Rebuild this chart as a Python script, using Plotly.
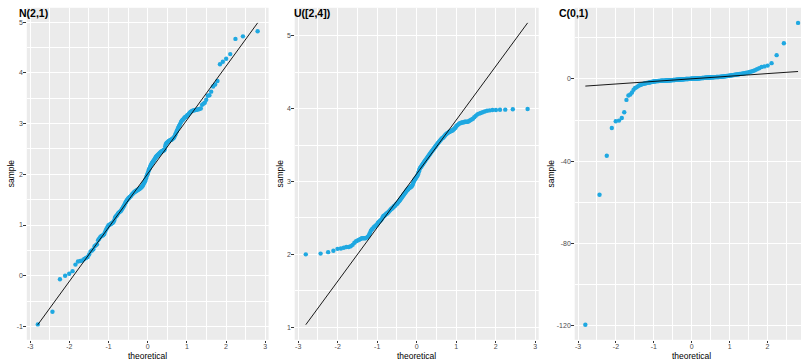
import numpy as np
import plotly.graph_objects as go
from statistics import NormalDist

# ---------------- data (sorted sample values) ----------------
titles = ["N(2,1)", "U([2,4])", "C(0,1)"]

normal_sample = [
    -0.96, -0.71, -0.07, 0.00, 0.04, 0.09, 0.22, 0.28, 0.29, 0.30,
    0.33, 0.35, 0.37, 0.42, 0.48, 0.50, 0.52, 0.58, 0.60, 0.62,
    0.70, 0.73, 0.76, 0.78, 0.79, 0.80, 0.82, 0.86, 0.90, 0.93,
    0.96, 0.99, 1.00, 1.01, 1.02, 1.03, 1.04, 1.05, 1.07, 1.10,
    1.15, 1.17, 1.18, 1.20, 1.22, 1.24, 1.25, 1.26, 1.27, 1.28,
    1.30, 1.32, 1.34, 1.36, 1.38, 1.40, 1.43, 1.45, 1.47, 1.49,
    1.50, 1.52, 1.53, 1.54, 1.55, 1.56, 1.57, 1.58, 1.60, 1.61,
    1.62, 1.63, 1.64, 1.65, 1.66, 1.66, 1.67, 1.68, 1.68, 1.69,
    1.70, 1.70, 1.71, 1.72, 1.72, 1.73, 1.74, 1.75, 1.76, 1.77,
    1.79, 1.81, 1.83, 1.85, 1.86, 1.89, 1.92, 1.95, 1.98, 2.00,
    2.03, 2.06, 2.09, 2.11, 2.13, 2.16, 2.18, 2.20, 2.22, 2.23,
    2.25, 2.26, 2.27, 2.29, 2.31, 2.32, 2.34, 2.35, 2.36, 2.37,
    2.38, 2.39, 2.40, 2.41, 2.42, 2.43, 2.44, 2.45, 2.45, 2.46,
    2.47, 2.47, 2.48, 2.49, 2.55, 2.59, 2.61, 2.62, 2.63, 2.64,
    2.65, 2.66, 2.67, 2.67, 2.675, 2.68, 2.69, 2.70, 2.71, 2.72,
    2.74, 2.77, 2.80, 2.83, 2.86, 2.89, 2.92, 2.95, 2.97, 3.00,
    3.03, 3.05, 3.07, 3.08, 3.10, 3.12, 3.13, 3.14, 3.16, 3.17,
    3.19, 3.21, 3.23, 3.24, 3.25, 3.26, 3.26, 3.27, 3.27, 3.28,
    3.28, 3.29, 3.30, 3.37, 3.39, 3.41, 3.47, 3.55, 3.56, 3.63,
    3.73, 3.77, 3.84, 4.17, 4.22, 4.28, 4.37, 4.67, 4.72, 4.82,
]

uniform_sample = [
    2.00, 2.01, 2.03, 2.05, 2.075, 2.08, 2.09, 2.10, 2.10, 2.11,
    2.13, 2.16, 2.18, 2.19, 2.20, 2.21, 2.22, 2.22, 2.22, 2.22,
    2.23, 2.24, 2.26, 2.29, 2.32, 2.34, 2.35, 2.37, 2.38, 2.39,
    2.40, 2.41, 2.43, 2.44, 2.45, 2.46, 2.47, 2.48, 2.50, 2.52,
    2.53, 2.53, 2.54, 2.55, 2.56, 2.56, 2.57, 2.58, 2.59, 2.60,
    2.61, 2.62, 2.63, 2.63, 2.64, 2.65, 2.66, 2.66, 2.67, 2.68,
    2.69, 2.69, 2.70, 2.71, 2.72, 2.73, 2.74, 2.75, 2.76, 2.77,
    2.78, 2.79, 2.80, 2.81, 2.82, 2.83, 2.84, 2.85, 2.86, 2.87,
    2.88, 2.89, 2.89, 2.90, 2.91, 2.91, 2.92, 2.92, 2.93, 2.93,
    2.94, 2.95, 2.97, 2.99, 3.01, 3.02, 3.03, 3.04, 3.05, 3.06,
    3.07, 3.08, 3.10, 3.12, 3.14, 3.16, 3.18, 3.19, 3.20, 3.21,
    3.22, 3.23, 3.24, 3.25, 3.26, 3.27, 3.28, 3.29, 3.30, 3.31,
    3.32, 3.33, 3.34, 3.35, 3.36, 3.37, 3.38, 3.39, 3.40, 3.41,
    3.42, 3.43, 3.44, 3.45, 3.46, 3.47, 3.48, 3.49, 3.50, 3.51,
    3.52, 3.53, 3.54, 3.55, 3.56, 3.57, 3.58, 3.59, 3.595, 3.60,
    3.61, 3.62, 3.63, 3.64, 3.65, 3.66, 3.66, 3.67, 3.68, 3.68,
    3.69, 3.69, 3.70, 3.70, 3.71, 3.72, 3.73, 3.74, 3.76, 3.77,
    3.78, 3.79, 3.80, 3.80, 3.81, 3.81, 3.81, 3.82, 3.82, 3.82,
    3.82, 3.83, 3.84, 3.85, 3.86, 3.88, 3.90, 3.92, 3.93, 3.94,
    3.95, 3.96, 3.97, 3.975, 3.98, 3.98, 3.983, 3.985, 3.99, 3.995,
]

cauchy_sample = [
    -119.7, -56.4, -37.4, -23.9, -20.6, -20.3, -19.0, -16.2, -10.2, -8.1,
    -7.6, -6.6, -5.3, -4.4, -4.1, -3.6, -3.2, -2.9, -2.7, -2.5,
    -2.35, -2.2, -2.1, -2.0, -1.9, -1.8, -1.7, -1.6, -1.5, -1.42,
    -1.35, -1.28, -1.22, -1.17, -1.12, -1.08, -1.04, -1.01, -0.98, -0.95,
    -0.92, -0.90, -0.88, -0.86, -0.84, -0.83, -0.82, -0.81, -0.80, -0.79,
    -0.78, -0.76, -0.74, -0.72, -0.70, -0.68, -0.66, -0.64, -0.62, -0.60,
    -0.58, -0.56, -0.54, -0.52, -0.50, -0.48, -0.46, -0.44, -0.42, -0.40,
    -0.38, -0.36, -0.34, -0.32, -0.30, -0.28, -0.26, -0.24, -0.22, -0.20,
    -0.18, -0.16, -0.14, -0.12, -0.11, -0.10, -0.08, -0.06, -0.05, -0.04,
    -0.03, -0.02, 0.00, 0.01, 0.02, 0.03, 0.04, 0.05, 0.06, 0.07,
    0.08, 0.09, 0.11, 0.12, 0.14, 0.15, 0.17, 0.19, 0.20, 0.22,
    0.24, 0.25, 0.27, 0.29, 0.31, 0.32, 0.34, 0.36, 0.38, 0.40,
    0.41, 0.43, 0.45, 0.47, 0.49, 0.51, 0.53, 0.55, 0.57, 0.59,
    0.61, 0.63, 0.65, 0.67, 0.69, 0.71, 0.73, 0.75, 0.77, 0.79,
    0.81, 0.83, 0.85, 0.86, 0.87, 0.88, 0.89, 0.90, 0.91, 0.92,
    0.94, 0.96, 0.98, 1.00, 1.03, 1.06, 1.09, 1.12, 1.15, 1.19,
    1.23, 1.27, 1.31, 1.35, 1.40, 1.45, 1.50, 1.56, 1.62, 1.68,
    1.74, 1.80, 1.87, 1.94, 2.01, 2.08, 2.15, 2.22, 2.30, 2.38,
    2.47, 2.56, 2.66, 2.77, 2.88, 3.00, 3.15, 3.35, 3.60, 3.90,
    4.25, 4.70, 5.20, 5.80, 6.10, 6.50, 7.70, 11.6, 17.4, 27.3,
]

samples = [normal_sample, uniform_sample, cauchy_sample]
x_tick_vals = [-3, -2, -1, 0, 1, 2, 3]
y_tick_vals = [[-1, 0, 1, 2, 3, 4, 5], [1, 2, 3, 4, 5], [-120, -80, -40, 0]]
y_minor_step = [0.5, 0.5, 20]

# ---------------- styling / layout constants ----------------
W, H = 801, 361
panel_left_px = [26.8, 294.7, 574.7]
panel_width_px = [241.8, 244.0, 234.0]
panel_top_px, panel_bot_px = 7.8, 339.8
title_x_px = [17.3, 291.7, 557.3]
ylab_x_px = [10.5, 279.7, 550.7]
point_color = "#1FA8E1"
FONT = "Liberation Sans, Arial, Helvetica, sans-serif"

nd = NormalDist()
fig = go.Figure()
annotations = []
layout_axes = {}

for k, s in enumerate(samples):
    y = np.sort(np.array(s, dtype=float))
    n = len(y)
    theo = np.array([nd.inv_cdf((i - 0.5) / n) for i in range(1, n + 1)])
    # qq line through quartiles (as stat_qq_line)
    q1, q3 = np.quantile(y, [0.25, 0.75])
    z1, z3 = nd.inv_cdf(0.25), nd.inv_cdf(0.75)
    slope = (q3 - q1) / (z3 - z1)
    icpt = q1 - slope * z1
    lx = np.array([theo.min(), theo.max()])
    ly = icpt + slope * lx

    xa = "x" if k == 0 else f"x{k+1}"
    ya = "y" if k == 0 else f"y{k+1}"
    fig.add_trace(go.Scatter(x=theo, y=y, mode="markers", xaxis=xa, yaxis=ya,
                             marker=dict(size=4.4, color=point_color, line=dict(width=0)),
                             hoverinfo="skip"))
    fig.add_trace(go.Scatter(x=lx, y=ly, mode="lines", xaxis=xa, yaxis=ya,
                             line=dict(color="black", width=0.9), hoverinfo="skip"))

    # ranges with 5% expansion
    xlo, xhi = theo.min(), theo.max()
    xpad = 0.05 * (xhi - xlo)
    xlo, xhi = xlo - xpad, xhi + xpad
    ylo, yhi = min(y.min(), ly.min()), max(y.max(), ly.max())
    ypad = 0.05 * (yhi - ylo)
    ylo, yhi = ylo - ypad, yhi + ypad

    left = panel_left_px[k]
    width = panel_width_px[k]
    right = min(left + width, W)
    frac = (right - left) / width
    xr = [xlo, xlo + (xhi - xlo) * frac]

    common = dict(showgrid=True, gridcolor="white", gridwidth=1.1, zeroline=False,
                  showline=False, ticks="outside", ticklen=2.5, tickwidth=0.6,
                  tickcolor="#333333", tickfont=dict(family=FONT, size=7, color="#4D4D4D"))
    layout_axes["xaxis" if k == 0 else f"xaxis{k+1}"] = dict(
        common, domain=[left / W, right / W], range=xr, anchor=ya,
        tickvals=x_tick_vals, ticktext=[str(v) for v in x_tick_vals],
        ticklabelstandoff=-3,
        minor=dict(dtick=0.5, tick0=0, showgrid=True, gridcolor="white", gridwidth=0.55, ticks=""))
    layout_axes["yaxis" if k == 0 else f"yaxis{k+1}"] = dict(
        common, domain=[(H - panel_bot_px) / H, (H - panel_top_px) / H], range=[ylo, yhi],
        anchor=xa, tickvals=y_tick_vals[k], ticktext=[str(v) for v in y_tick_vals[k]],
        ticklabelstandoff=-1,
        minor=dict(dtick=y_minor_step[k], tick0=0, showgrid=True, gridcolor="white",
                   gridwidth=0.55, ticks=""))

    annotations.append(dict(text="<b>" + titles[k] + "</b>", xref="paper", yref="paper",
                            x=title_x_px[k] / W, y=(H - 12.8) / H, xanchor="left",
                            yanchor="middle", showarrow=False,
                            font=dict(family=FONT, size=10.5, color="black")))
    annotations.append(dict(text="sample", xref="paper", yref="paper",
                            x=ylab_x_px[k] / W,
                            y=(H - (panel_top_px + panel_bot_px) / 2) / H,
                            xanchor="center", yanchor="middle", textangle=-90,
                            showarrow=False, font=dict(family=FONT, size=8.5, color="black")))
    annotations.append(dict(text="theoretical", xref="paper", yref="paper",
                            x=(left + width / 2) / W, y=(H - 356.0) / H,
                            xanchor="center", yanchor="middle", showarrow=False,
                            font=dict(family=FONT, size=8.5, color="black")))

fig.update_layout(width=W, height=H, margin=dict(l=0, r=0, t=0, b=0),
                  paper_bgcolor="white", plot_bgcolor="#EBEBEB", showlegend=False,
                  annotations=annotations, **layout_axes)

fig.write_html("out.html")
